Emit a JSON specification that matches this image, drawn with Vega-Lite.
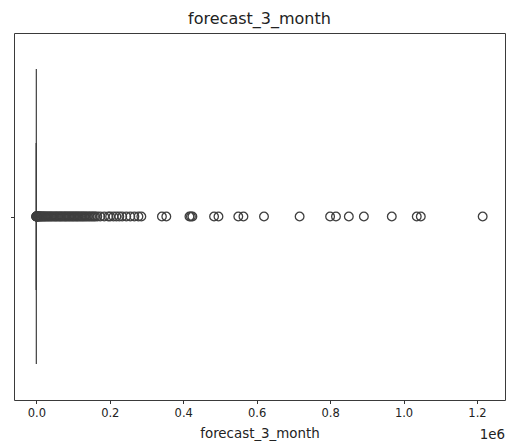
{
  "$schema": "https://vega.github.io/schema/vega-lite/v6.json",
  "width": 491,
  "height": 367,
  "autosize": {"type": "none"},
  "padding": {"left": 14, "top": 33, "right": 3, "bottom": 43},
  "background": "white",
  "config": {
    "font": "DejaVu Sans",
    "view": {"stroke": "#3a3a3a", "strokeWidth": 1},
    "axis": {"grid": false, "domain": false, "tickColor": "#333", "tickSize": 3.5, "tickWidth": 1, "labelColor": "#222", "labelFont": "DejaVu Sans", "titleFont": "DejaVu Sans", "titleFontWeight": "normal", "titleColor": "#222"}
  },
  "title": {"text": "forecast_3_month", "fontSize": 16, "fontWeight": "normal", "font": "DejaVu Sans", "color": "#222", "offset": 6},
  "datasets": {
    "stats": [{"q1": 0, "median": 0, "q3": 4, "lower": 0, "upper": 10}],
    "outliers": [
      {"forecast_3_month": 15}, {"forecast_3_month": 40}, {"forecast_3_month": 120}, {"forecast_3_month": 300}, {"forecast_3_month": 600},
      {"forecast_3_month": 1000}, {"forecast_3_month": 1600}, {"forecast_3_month": 2400}, {"forecast_3_month": 3300}, {"forecast_3_month": 4500},
      {"forecast_3_month": 6000}, {"forecast_3_month": 7500}, {"forecast_3_month": 9000}, {"forecast_3_month": 11000}, {"forecast_3_month": 13000},
      {"forecast_3_month": 15000}, {"forecast_3_month": 17500}, {"forecast_3_month": 20000}, {"forecast_3_month": 22500}, {"forecast_3_month": 25000},
      {"forecast_3_month": 28000}, {"forecast_3_month": 31000}, {"forecast_3_month": 34000}, {"forecast_3_month": 37000}, {"forecast_3_month": 40000},
      {"forecast_3_month": 43000}, {"forecast_3_month": 46500}, {"forecast_3_month": 50000}, {"forecast_3_month": 53000}, {"forecast_3_month": 56000},
      {"forecast_3_month": 59500}, {"forecast_3_month": 63000}, {"forecast_3_month": 66000}, {"forecast_3_month": 69000}, {"forecast_3_month": 72500},
      {"forecast_3_month": 76000}, {"forecast_3_month": 79000}, {"forecast_3_month": 82000}, {"forecast_3_month": 85500}, {"forecast_3_month": 89000},
      {"forecast_3_month": 92000}, {"forecast_3_month": 95500}, {"forecast_3_month": 99000}, {"forecast_3_month": 102000}, {"forecast_3_month": 105500},
      {"forecast_3_month": 109000}, {"forecast_3_month": 112000}, {"forecast_3_month": 115500}, {"forecast_3_month": 119000}, {"forecast_3_month": 122500},
      {"forecast_3_month": 126000}, {"forecast_3_month": 129500}, {"forecast_3_month": 133000}, {"forecast_3_month": 137000}, {"forecast_3_month": 141000},
      {"forecast_3_month": 145000}, {"forecast_3_month": 149000}, {"forecast_3_month": 153000}, {"forecast_3_month": 157000}, {"forecast_3_month": 160500},
      {"forecast_3_month": 166000}, {"forecast_3_month": 174000}, {"forecast_3_month": 185000}, {"forecast_3_month": 196000}, {"forecast_3_month": 201000},
      {"forecast_3_month": 210000}, {"forecast_3_month": 218000}, {"forecast_3_month": 226000}, {"forecast_3_month": 234000}, {"forecast_3_month": 245000},
      {"forecast_3_month": 256000}, {"forecast_3_month": 267000}, {"forecast_3_month": 278000}, {"forecast_3_month": 286000},
      {"forecast_3_month": 342000}, {"forecast_3_month": 354000}, {"forecast_3_month": 417000}, {"forecast_3_month": 421000}, {"forecast_3_month": 425000},
      {"forecast_3_month": 484000}, {"forecast_3_month": 496000}, {"forecast_3_month": 550000}, {"forecast_3_month": 564000}, {"forecast_3_month": 620000},
      {"forecast_3_month": 717000}, {"forecast_3_month": 800000}, {"forecast_3_month": 816000}, {"forecast_3_month": 851000}, {"forecast_3_month": 892000},
      {"forecast_3_month": 968000}, {"forecast_3_month": 1036000}, {"forecast_3_month": 1047000}, {"forecast_3_month": 1215500}
    ],
    "note": [{"label": "1e6"}]
  },
  "layer": [
    {
      "data": {"name": "stats"},
      "mark": {"type": "rule", "color": "#3f3f3f", "strokeWidth": 1.2},
      "encoding": {
        "x": {"field": "q3", "type": "quantitative", "scale": {"domain": [-60800, 1276300], "nice": false, "zero": false},
              "axis": {"values": [0, 200000, 400000, 600000, 800000, 1000000, 1200000], "labelExpr": "format(datum.value / 1000000, '.1f')", "labelFontSize": 11.5, "labelPadding": 4, "title": "forecast_3_month", "titleFontSize": 13.4, "titlePadding": 7}},
        "x2": {"field": "upper"},
        "y": {"datum": 0, "type": "quantitative", "scale": {"domain": [-0.5, 0.5], "nice": false, "zero": false},
              "axis": {"values": [0], "labels": false, "title": null, "tickSize": 3.5}}
      }
    },
    {
      "data": {"name": "stats"},
      "mark": {"type": "rect", "fill": "#1f77b4", "stroke": "#3f3f3f", "strokeWidth": 1.2},
      "encoding": {
        "x": {"field": "q1", "type": "quantitative"},
        "x2": {"field": "q3"},
        "y": {"datum": -0.4, "type": "quantitative"},
        "y2": {"datum": 0.4}
      }
    },
    {
      "data": {"name": "stats"},
      "mark": {"type": "rule", "color": "#3f3f3f", "strokeWidth": 1.2},
      "encoding": {
        "x": {"field": "upper", "type": "quantitative"},
        "y": {"datum": -0.2, "type": "quantitative"},
        "y2": {"datum": 0.2}
      }
    },
    {
      "data": {"name": "stats"},
      "mark": {"type": "rule", "color": "#3f3f3f", "strokeWidth": 1.2},
      "encoding": {
        "x": {"field": "lower", "type": "quantitative"},
        "y": {"datum": -0.2, "type": "quantitative"},
        "y2": {"datum": 0.2}
      }
    },
    {
      "data": {"name": "outliers"},
      "mark": {"type": "point", "shape": "circle", "filled": false, "size": 75, "stroke": "#3f3f3f", "strokeWidth": 1.3, "opacity": 1},
      "encoding": {
        "x": {"field": "forecast_3_month", "type": "quantitative"},
        "y": {"datum": 0, "type": "quantitative"}
      }
    },
    {
      "data": {"name": "note"},
      "mark": {"type": "text", "align": "right", "baseline": "middle", "dy": 35, "fontSize": 13.4, "color": "#222", "font": "DejaVu Sans"},
      "encoding": {
        "x": {"datum": 1276300, "type": "quantitative"},
        "y": {"datum": -0.5, "type": "quantitative"},
        "text": {"field": "label"}
      }
    }
  ]
}
